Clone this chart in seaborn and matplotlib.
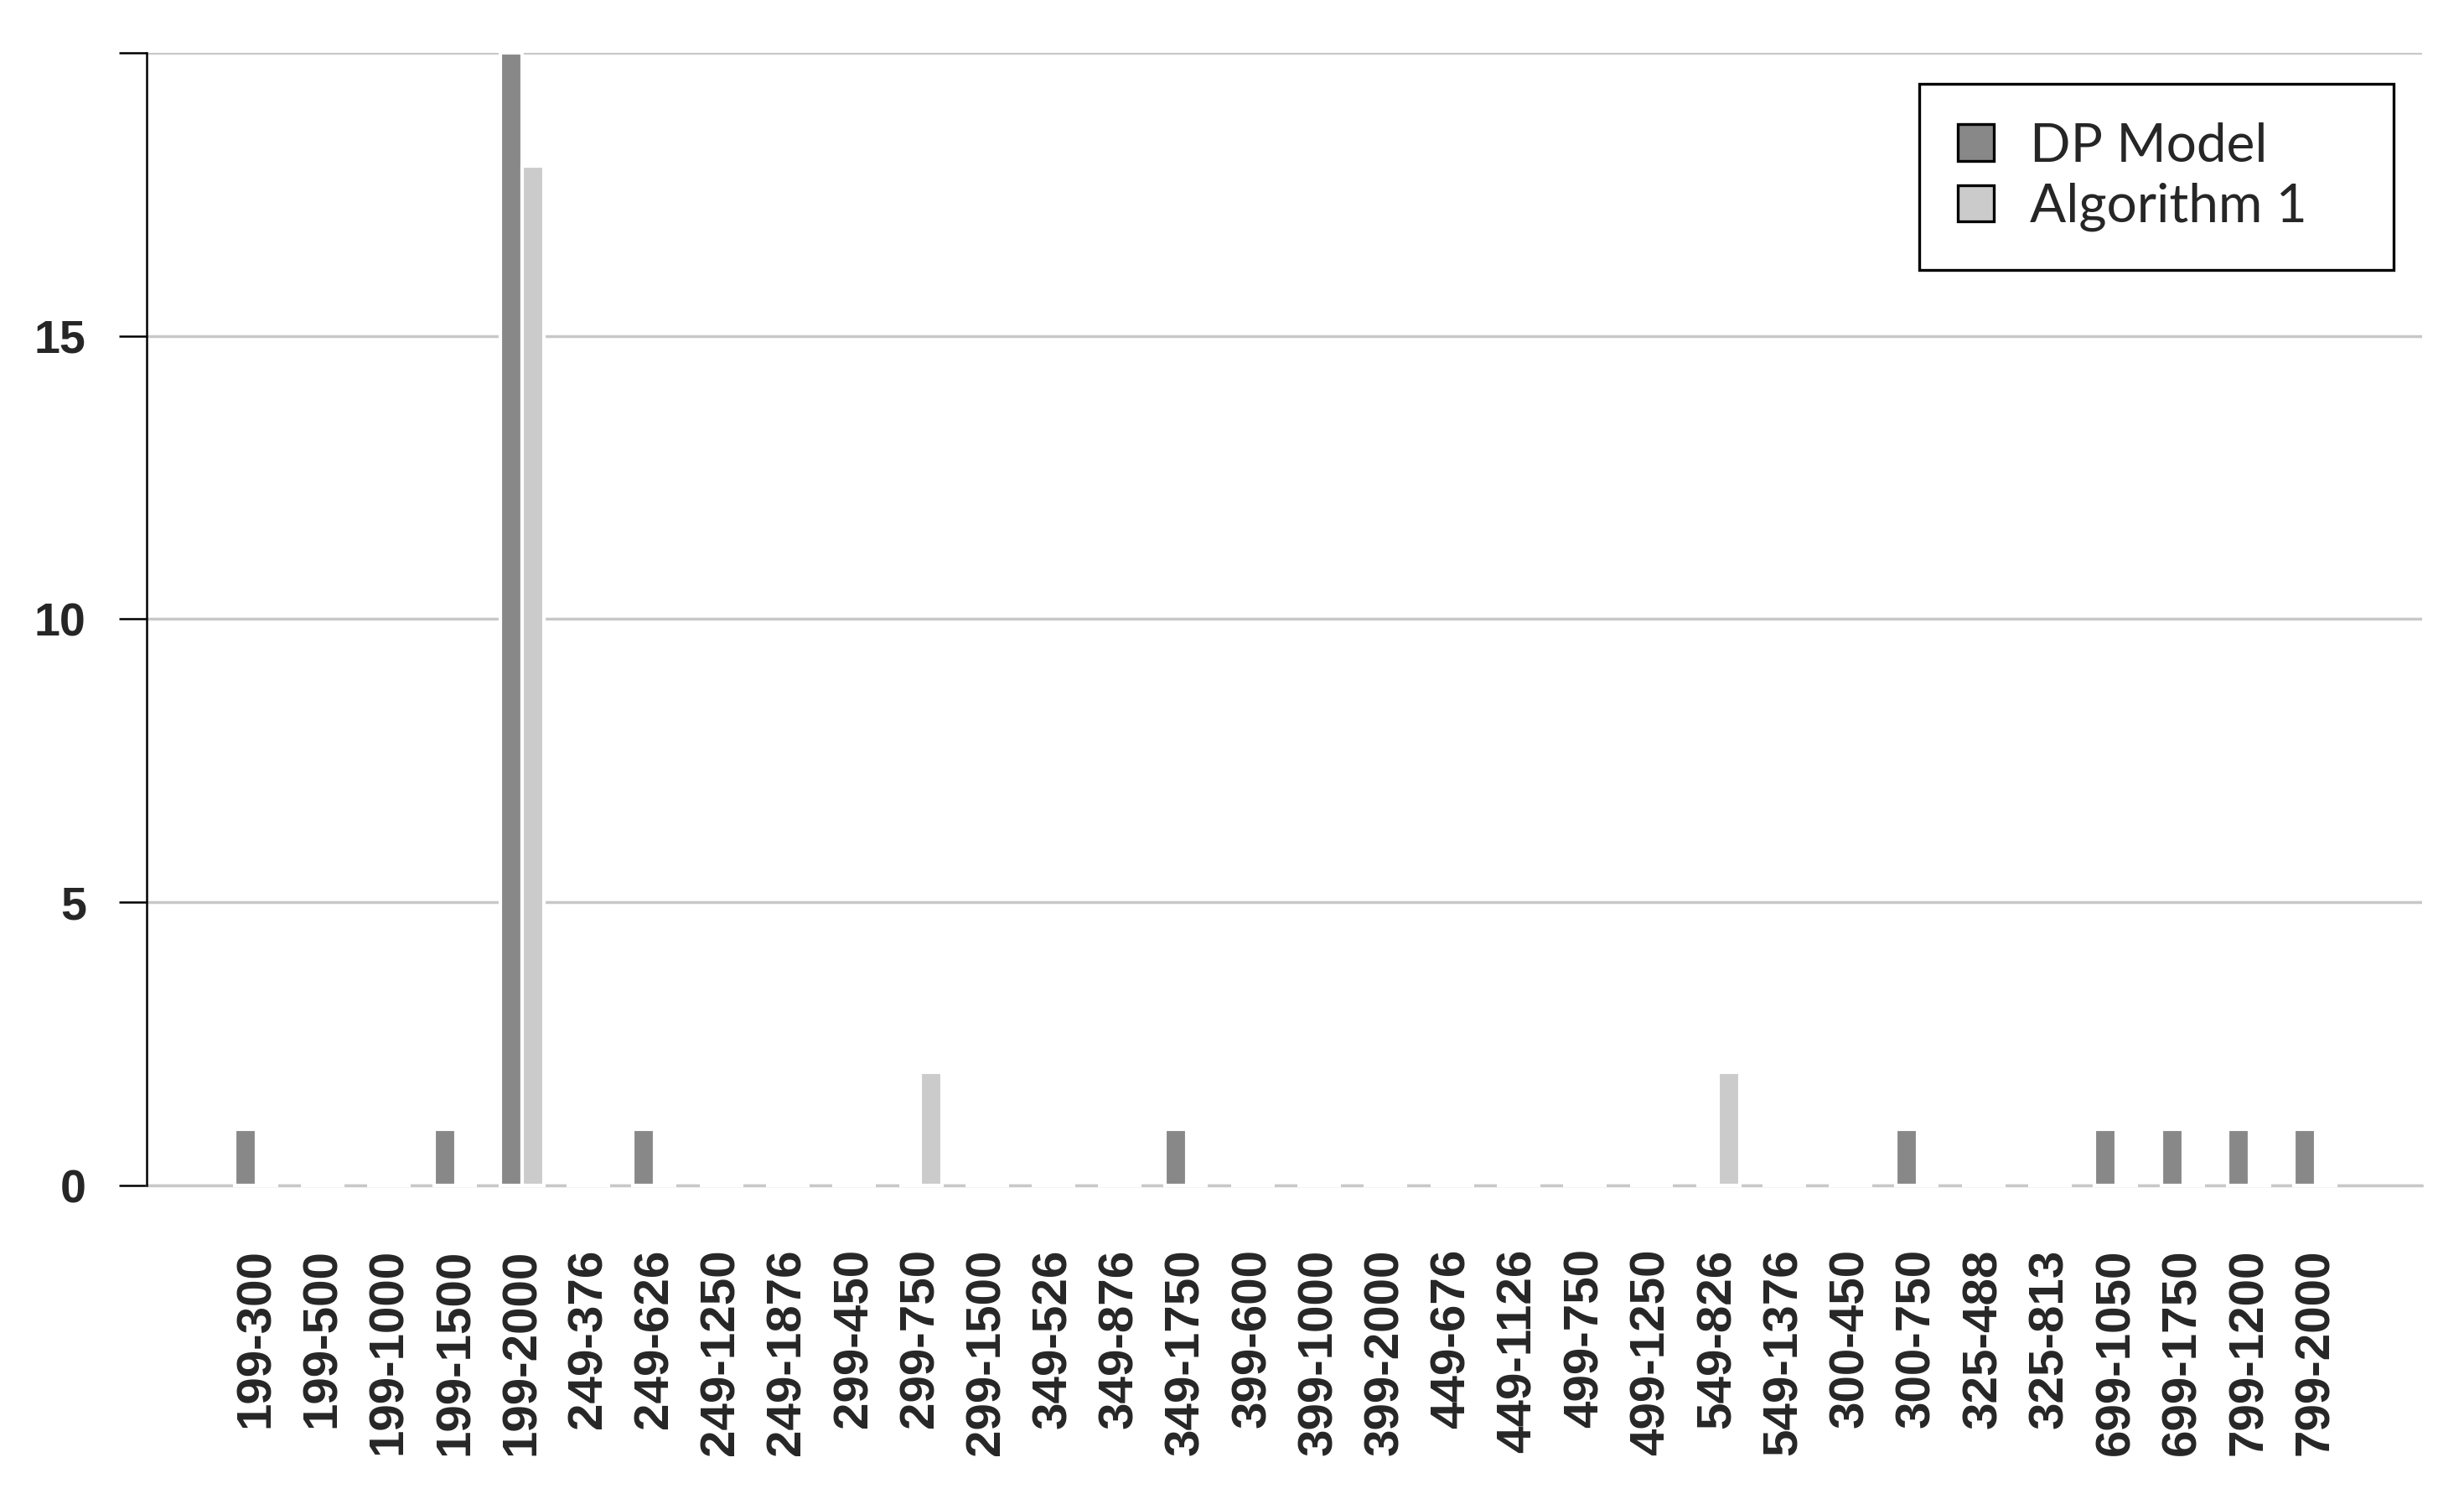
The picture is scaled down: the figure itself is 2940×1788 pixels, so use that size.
import matplotlib
matplotlib.use("Agg")
import matplotlib.pyplot as plt
from matplotlib.patches import Patch
import pandas as pd
import seaborn as sns

categories = [
    "199-300", "199-500", "199-1000", "199-1500", "199-2000", "249-376",
    "249-626", "249-1250", "249-1876", "299-450", "299-750", "299-1500",
    "349-526", "349-876", "349-1750", "399-600", "399-1000", "399-2000",
    "449-676", "449-1126", "499-750", "499-1250", "549-826", "549-1376",
    "300-450", "300-750", "325-488", "325-813", "699-1050", "699-1750",
    "799-1200", "799-2000",
]
dp_model = [1, 0, 0, 1, 20, 0, 1, 0, 0, 0, 0, 0, 0, 0, 1, 0,
            0, 0, 0, 0, 0, 0, 0, 0, 0, 1, 0, 0, 1, 1, 1, 1]
algorithm_1 = [0, 0, 0, 0, 18, 0, 0, 0, 0, 0, 2, 0, 0, 0, 0, 0,
               0, 0, 0, 0, 0, 0, 2, 0, 0, 0, 0, 0, 0, 0, 0, 0]
series = ["DP Model", "Algorithm 1"]
colors = {"DP Model": "#888888", "Algorithm 1": "#cbcbcb"}

df = pd.DataFrame({
    "range": categories * 2,
    "count": dp_model + algorithm_1,
    "method": [series[0]] * len(categories) + [series[1]] * len(categories),
})

sns.set_theme(style="whitegrid")
plt.rcParams["font.family"] = ["Liberation Sans", "DejaVu Sans"]

fig = plt.figure(figsize=(14.7, 8.94), dpi=200)
ax = fig.add_axes([0.0595, 0.209, 0.9235, 0.756])

sns.barplot(
    data=df, x="range", y="count", hue="method", order=categories,
    hue_order=series, palette=colors, saturation=1, width=0.654,
    errorbar=None, edgecolor="white", linewidth=1.5, legend=False, ax=ax,
)
# white bar outlines break the baseline into dashes, as in the original
for p in ax.patches:
    p.set_clip_on(False)
ax.axhline(0, color="#c8c8c8", linewidth=1.25, clip_on=False, zorder=0.6)

ax.set_xlim(-1.65, 32.6)
ax.set_ylim(0, 20)
ax.set_yticks([0, 5, 10, 15, 20])
ax.set_yticklabels(["0", "5", "10", "15", ""], fontsize=20, fontweight="bold")
ax.grid(axis="y", color="#c8c8c8", linewidth=1.25)
ax.grid(axis="x", visible=False)
ax.set_axisbelow(True)
for side in ["top", "right", "bottom"]:
    ax.spines[side].set_visible(False)
ax.spines["left"].set_color("black")
ax.spines["left"].set_linewidth(0.9)
ax.tick_params(axis="y", left=True, length=12, width=0.9, color="black", pad=14)
ax.tick_params(axis="x", bottom=False, pad=21)
for lab in ax.get_xticklabels():
    lab.set_rotation(90)
    lab.set_fontsize(21)
    lab.set_fontweight("bold")
    lab.set_va("top")
ax.set_xlabel("")
ax.set_ylabel("")

handles = [Patch(facecolor=colors[s], edgecolor="black", linewidth=1.2, label=s)
           for s in series]
leg = ax.legend(
    handles=handles, loc="upper left", bbox_to_anchor=(0.779, 0.818, 0.2085, 0.1546),
    mode="expand", prop={"family": "Lato", "size": 23}, frameon=True,
    fancybox=False, edgecolor="black", framealpha=1, borderpad=0.72,
    handlelength=0.67, handleheight=0.67, handletextpad=0.67,
    labelspacing=0.22, borderaxespad=0,
)
leg.get_frame().set_linewidth(1.2)
leg.get_frame().set_boxstyle("square", pad=0)

fig.savefig("out.png", dpi=200)
